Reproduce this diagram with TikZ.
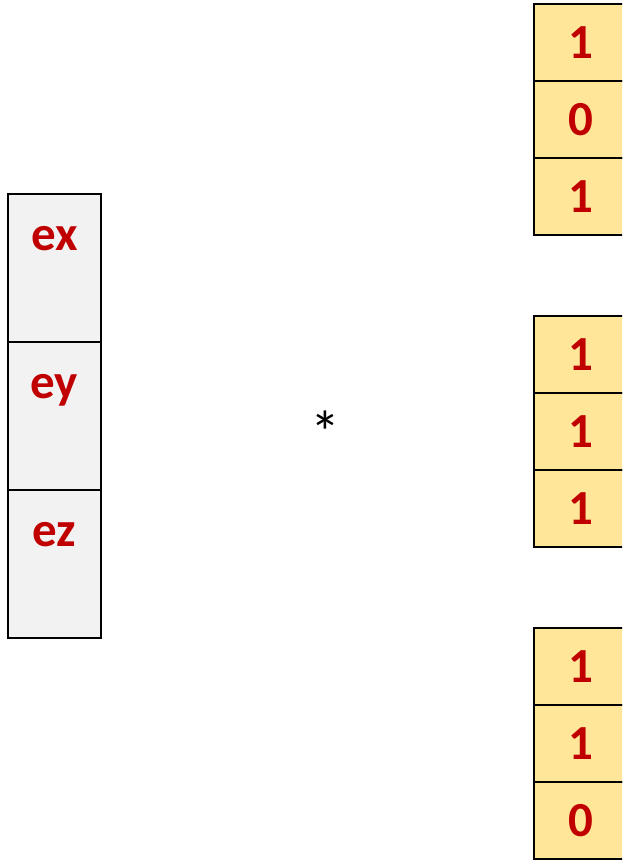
\documentclass[tikz,border=0pt]{standalone}
\usepackage{fontspec}
\setmainfont{Carlito}
\definecolor{cellgray}{HTML}{F2F2F2}
\definecolor{cellgold}{HTML}{FFE699}
\definecolor{txtred}{HTML}{C00000}
\begin{document}
\begin{tikzpicture}[x=1pt,y=-1pt,
  lbox/.style={draw=black,line width=2.4pt,fill=cellgray,minimum width=93pt,minimum height=148pt,inner sep=0pt,outer sep=0pt},
  rbox/.style={draw=black,line width=2.4pt,fill=cellgold,minimum width=93pt,minimum height=77pt,inner sep=0pt,outer sep=0pt,
    font=\fontsize{49}{49}\selectfont\bfseries,text=txtred},
  ltxt/.style={anchor=base,inner sep=0pt,font=\fontsize{49}{49}\selectfont\bfseries,text=txtred}]
\useasboundingbox (0,0) rectangle (622,860);
\clip (0,0) rectangle (622,860);
\fill[white] (0,0) rectangle (622,860);
% left column
\node[lbox] (ex) at (54.5,268) {};
\node[lbox] (ey) at (54.5,416) {};
\node[lbox] (ez) at (54.5,564) {};
\node[ltxt] (tex) at (54.5,250) {ex};
\node[ltxt] (tey) at (54.5,398) {ey};
\node[ltxt] (tez) at (54.5,546) {ez};
% operator
\node[inner sep=0pt,font=\fontsize{60}{60}\selectfont] (star) at (325,432) {*};
% right groups
\node[rbox] (a1) at (580.5,42.5) {1};
\node[rbox] (a2) at (580.5,119.5) {0};
\node[rbox] (a3) at (580.5,196.5) {1};
\node[rbox] (b1) at (580.5,354.5) {1};
\node[rbox] (b2) at (580.5,431.5) {1};
\node[rbox] (b3) at (580.5,508.5) {1};
\node[rbox] (c1) at (580.5,666.5) {1};
\node[rbox] (c2) at (580.5,743.5) {1};
\node[rbox] (c3) at (580.5,820.5) {0};
\end{tikzpicture}
\end{document}
